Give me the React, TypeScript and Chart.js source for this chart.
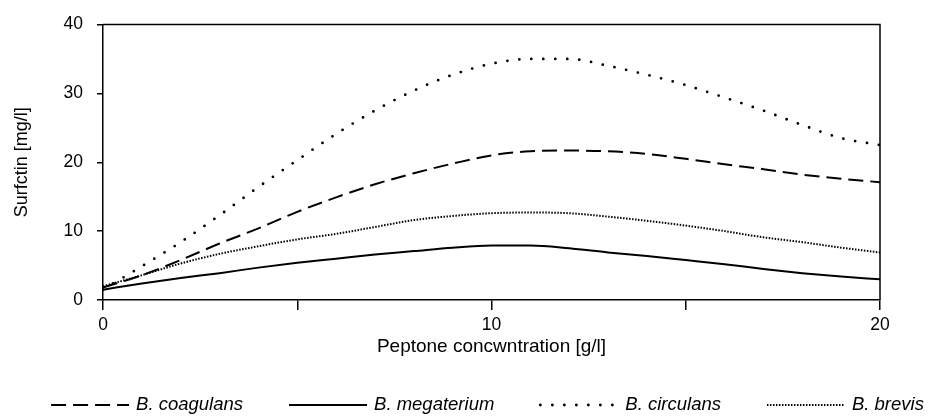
import React, { useEffect, useRef } from "react";
import { Chart, registerables } from "chart.js";

Chart.register(...registerables);

const xValues = [0, 1, 2, 3, 4, 5, 6, 7, 8, 9, 10, 11, 12, 13, 14, 15, 16, 17, 18, 19, 20];
const coagulans = [1.8, 3.6, 5.8, 8.2, 10.4, 12.8, 14.9, 16.8, 18.4, 19.8, 21.0, 21.6, 21.7, 21.6, 21.2, 20.5, 19.7, 19.0, 18.2, 17.6, 17.1];
const megaterium = [1.5, 2.4, 3.2, 3.9, 4.7, 5.4, 6.0, 6.6, 7.1, 7.6, 7.9, 7.9, 7.5, 6.9, 6.4, 5.8, 5.2, 4.5, 3.9, 3.4, 3.0];
const circulans = [1.5, 4.9, 8.4, 12.3, 16.4, 20.3, 24.1, 27.5, 30.4, 32.7, 34.3, 35.0, 35.0, 34.0, 32.7, 31.2, 29.4, 27.5, 25.4, 23.5, 22.5];
const brevis = [2.0, 3.6, 5.3, 6.7, 7.8, 8.8, 9.6, 10.6, 11.6, 12.2, 12.6, 12.7, 12.6, 12.1, 11.5, 10.8, 10.0, 9.1, 8.4, 7.6, 6.9];
const seriesNames = ["B. coagulans", "B. megaterium", "B. circulans", "B. brevis"];
const xTickLabels = ["0", "10", "20"];

const FONT = "'Liberation Sans', Arial, sans-serif";

const toPoints = (ys: number[]) => xValues.map((x, i) => ({ x, y: ys[i] }));

const framePlugin = {
  id: "frame",
  afterDraw(chart: any) {
    const { ctx, chartArea } = chart;
    const { left, top, right, bottom } = chartArea;
    ctx.save();
    ctx.strokeStyle = "#000";
    ctx.lineWidth = 1.5;
    ctx.beginPath();
    ctx.moveTo(left, top);
    ctx.lineTo(right, top);
    ctx.lineTo(right, bottom);
    ctx.stroke();
    ctx.restore();
  },
};

const legendPlugin = {
  id: "customLegend",
  afterDraw(chart: any) {
    const { ctx, chartArea } = chart;
    const sample = 78;
    const gap = 7;
    const spacing = 46;
    const y = 405;
    ctx.save();
    ctx.font = `italic 18.5px ${FONT}`;
    const items = chart.data.datasets.map((ds: any) => ({
      ds,
      w: ctx.measureText(ds.label).width,
    }));
    const total = items.reduce((s: number, it: any) => s + sample + gap + it.w, 0) + spacing * (items.length - 1);
    let x = (chartArea.left + chartArea.right) / 2 - total / 2 - 4;
    items.forEach((it: any) => {
      const ds = it.ds;
      ctx.save();
      ctx.strokeStyle = "#000";
      ctx.lineWidth = ds.borderWidth;
      ctx.setLineDash(ds.borderDash || []);
      ctx.lineCap = ds.borderCapStyle || "butt";
      ctx.beginPath();
      ctx.moveTo(x, y);
      ctx.lineTo(x + sample, y);
      ctx.stroke();
      ctx.restore();
      ctx.fillStyle = "#000";
      ctx.textBaseline = "middle";
      ctx.textAlign = "left";
      ctx.fillText(ds.label, x + sample + gap, y);
      x += sample + gap + it.w + spacing;
    });
    ctx.restore();
  },
};

export default function App() {
  const ref = useRef<HTMLCanvasElement | null>(null);
  useEffect(() => {
    document.body.style.margin = "0";
    if (!ref.current) return;
    const common = {
      pointRadius: 0,
      fill: false,
      borderColor: "#000",
      cubicInterpolationMode: "monotone" as const,
    };
    const chart = new Chart(ref.current, {
      type: "line",
      data: {
        datasets: [
          { ...common, label: seriesNames[0], data: toPoints(coagulans), borderWidth: 2, borderDash: [15, 7] },
          { ...common, label: seriesNames[1], data: toPoints(megaterium), borderWidth: 2 },
          { ...common, label: seriesNames[2], data: toPoints(circulans), borderWidth: 2.8, borderDash: [0, 12], borderCapStyle: "round" },
          { ...common, label: seriesNames[3], data: toPoints(brevis), borderWidth: 2, borderDash: [1.5, 1.5] },
        ] as any,
      },
      options: {
        responsive: false,
        animation: false,
        layout: { padding: { top: 16, right: 50, left: 0, bottom: 0 } },
        plugins: { legend: { display: false }, tooltip: { enabled: false } },
        scales: {
          x: {
            type: "linear",
            min: 0,
            max: 20,
            afterFit: (s: any) => { s.height = 117; },
            ticks: {
              stepSize: 5,
              color: "#000",
              font: { family: FONT, size: 17.5 },
              padding: 5,
              maxRotation: 0,
              callback: (v: any) => (xTickLabels.includes(String(v)) ? String(v) : ""),
            },
            grid: { drawOnChartArea: false, color: "#000", lineWidth: 1.5, tickLength: 10 },
            border: { color: "#000", width: 1.5 },
            title: {
              display: true,
              text: "Peptone concwntration [g/l]",
              color: "#000",
              font: { family: FONT, size: 19 },
              padding: { top: 0, bottom: 59 },
            },
          },
          y: {
            min: 0,
            max: 40,
            afterFit: (s: any) => { s.width = 103; },
            ticks: { stepSize: 10, color: "#000", font: { family: FONT, size: 17.5 }, padding: 14 },
            grid: { drawOnChartArea: false, color: "#000", lineWidth: 1.5, tickLength: 6 },
            border: { color: "#000", width: 1.5 },
            title: {
              display: true,
              text: "Surfctin [mg/l]",
              color: "#000",
              font: { family: FONT, size: 18 },
              padding: { top: 11, bottom: 0 },
            },
          },
        },
      },
      plugins: [framePlugin, legendPlugin],
    });
    return () => chart.destroy();
  }, []);
  return (
    <div style={{ width: 930, height: 417 }}>
      <canvas ref={ref} width={930} height={417} />
    </div>
  );
}
